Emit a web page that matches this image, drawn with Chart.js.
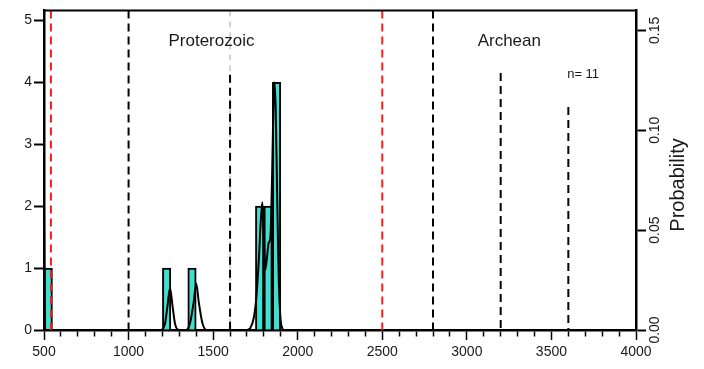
<!DOCTYPE html>
<html>
<head>
<meta charset="utf-8">
<script src="https://cdn.jsdelivr.net/npm/chart.js@4.4.0/dist/chart.umd.min.js"></script>
<style>
  html, body { margin: 0; padding: 0; background: #fff; }
  #wrap { width: 704px; height: 369px; }
</style>
</head>
<body>
<div id="wrap"><canvas id="chart" width="704" height="369"></canvas></div>
<script>
/* age histogram (50 Ma bins) + probability density curve */

const binCentres = [525, 1225, 1375, 1775, 1825, 1875];
const binCounts = [1, 1, 1, 2, 2, 4];

const pdpAges = [500, 504, 508,
    1190, 1215, 1230, 1245, 1260, 1275, 1300,
    1340, 1365, 1385, 1400, 1415, 1435, 1460,
    1700, 1720, 1740, 1755, 1770, 1782, 1791, 1800, 1808, 1818, 1828, 1838, 1848, 1856, 1863, 1870, 1878, 1888, 1898, 1912];
const pdpProb = [0.066, 0.012, 0,
    0, 0.003, 0.012, 0.021, 0.012, 0.003, 0,
    0, 0.004, 0.014, 0.0233, 0.014, 0.004, 0,
    0, 0.001, 0.006, 0.016, 0.035, 0.055, 0.064, 0.045, 0.030, 0.036, 0.0435, 0.046, 0.075, 0.11, 0.124, 0.11, 0.07, 0.025, 0.006, 0];

const redLines = [541, 2500];
const blackLines = [1000, 1600, 2800, 3200, 3600];
const blackLineTops = [5.16, 4.12, 5.16, 4.15, 3.6];

const eraLabels = ['Proterozoic', 'Archean'];
const eraLabelX = [1490, 3251];
const nLabel = 'n= 11';

const COUNT_MAX = 5.16;
const PROB_MAX = 0.16;
const FONT = '"Liberation Sans", Arial, sans-serif';

const pdpPoints = pdpAges.map((a, i) => ({ x: a, y: pdpProb[i] }));

function vline(x, top, color, width, dash) {
    return {
        type: 'line',
        data: [{ x: x, y: top }, { x: x, y: 0 }],
        yAxisID: 'y',
        borderColor: color,
        borderWidth: width,
        borderDash: dash,
        pointRadius: 0,
        fill: false,
        order: 0,
    };
}

const datasets = [
    {
        type: 'bar',
        data: binCentres.map((c, i) => ({ x: c, y: binCounts[i] })),
        yAxisID: 'y',
        backgroundColor: '#40e0d0',
        borderColor: '#000',
        borderWidth: 2,
        barPercentage: 1,
        categoryPercentage: 1,
        order: 10,
    },
    {
        type: 'line',
        data: pdpPoints,
        yAxisID: 'y2',
        borderColor: '#000',
        borderWidth: 2,
        pointRadius: 0,
        cubicInterpolationMode: 'monotone',
        fill: false,
        order: 1,
    },
];
redLines.forEach(x => datasets.push(vline(x, COUNT_MAX, '#ff1a1a', 2, [8, 5])));
blackLines.forEach((x, i) => datasets.push(vline(x, blackLineTops[i], '#000', 2, [8, 5])));
// faint upper part of the 1600 Ma line
datasets.push(vline(1600, COUNT_MAX, '#aaa', 1, [6, 5]));

const textPlugin = {
    id: 'textPlugin',
    afterDraw(chart) {
        const ctx = chart.ctx;
        const area = chart.chartArea;
        const xs = chart.scales.x, ys = chart.scales.y, y2 = chart.scales.y2;
        ctx.save();
        // top frame line
        ctx.strokeStyle = '#000';
        ctx.lineWidth = 2;
        ctx.beginPath();
        ctx.moveTo(area.left - 1, area.top);
        ctx.lineTo(area.right + 1, area.top);
        ctx.stroke();

        ctx.fillStyle = '#1a1a1a';
        ctx.textBaseline = 'middle';
        ctx.textAlign = 'center';
        ctx.font = '17px ' + FONT;
        eraLabels.forEach((t, i) => {
            ctx.fillText(t, xs.getPixelForValue(eraLabelX[i]), ys.getPixelForValue(4.66));
        });
        ctx.font = '13px ' + FONT;
        ctx.textAlign = 'left';
        ctx.fillText(nLabel, xs.getPixelForValue(3593), ys.getPixelForValue(4.12));

        // right axis labels, rotated
        ctx.font = '14px ' + FONT;
        ctx.textAlign = 'center';
        y2.ticks.forEach(t => {
            ctx.save();
            ctx.translate(area.right + 19, y2.getPixelForValue(t.value));
            ctx.rotate(-Math.PI / 2);
            ctx.fillText(t.value.toFixed(2), 0, 0);
            ctx.restore();
        });
        ctx.save();
        ctx.font = '20px ' + FONT;
        ctx.translate(area.right + 42, 185);
        ctx.rotate(-Math.PI / 2);
        ctx.fillText('Probability', 0, 0);
        ctx.restore();
        ctx.restore();
    },
};

new Chart(document.getElementById('chart'), {
    type: 'bar',
    data: { datasets },
    options: {
        responsive: false,
        animation: false,
        layout: { padding: { top: 10 } },
        plugins: { legend: { display: false }, tooltip: { enabled: false } },
        scales: {
            x: {
                type: 'linear',
                position: 'bottom',
                min: 500,
                max: 4000,
                offset: false,
                grid: {
                    offset: false,
                    drawOnChartArea: false,
                    tickLength: 10,
                    tickWidth: 1.5,
                    tickColor: '#000',
                    tickBorderDash: ctx => (ctx.tick && ctx.tick.value % 500 === 0) ? [] : [5, 20],
                },
                border: { display: true, color: '#000', width: 2.5 },
                ticks: {
                    stepSize: 100,
                    autoSkip: false,
                    includeBounds: false,
                    maxRotation: 0,
                    minRotation: 0,
                    padding: 4,
                    color: '#1a1a1a',
                    font: { size: 14, family: FONT },
                    callback: v => (v % 500 === 0 ? String(v) : ''),
                },
                afterFit: s => { s.height = 39; },
            },
            y: {
                position: 'left',
                min: 0,
                max: COUNT_MAX,
                grid: { drawOnChartArea: false, tickLength: 10, tickWidth: 2, tickColor: '#000' },
                border: { display: true, color: '#000', width: 2.5 },
                ticks: {
                    stepSize: 1,
                    includeBounds: false,
                    padding: 2,
                    color: '#1a1a1a',
                    font: { size: 14, family: FONT },
                },
                afterFit: s => { s.width = 44; },
            },
            y2: {
                position: 'right',
                min: 0,
                max: PROB_MAX,
                grid: { drawOnChartArea: false, tickLength: 10, tickWidth: 2, tickColor: '#000' },
                border: { display: true, color: '#000', width: 2.5 },
                ticks: { stepSize: 0.05, includeBounds: false, display: false },
                afterFit: s => { s.width = 68; },
            },
        },
    },
    plugins: [textPlugin],
});
</script>
</body>
</html>
